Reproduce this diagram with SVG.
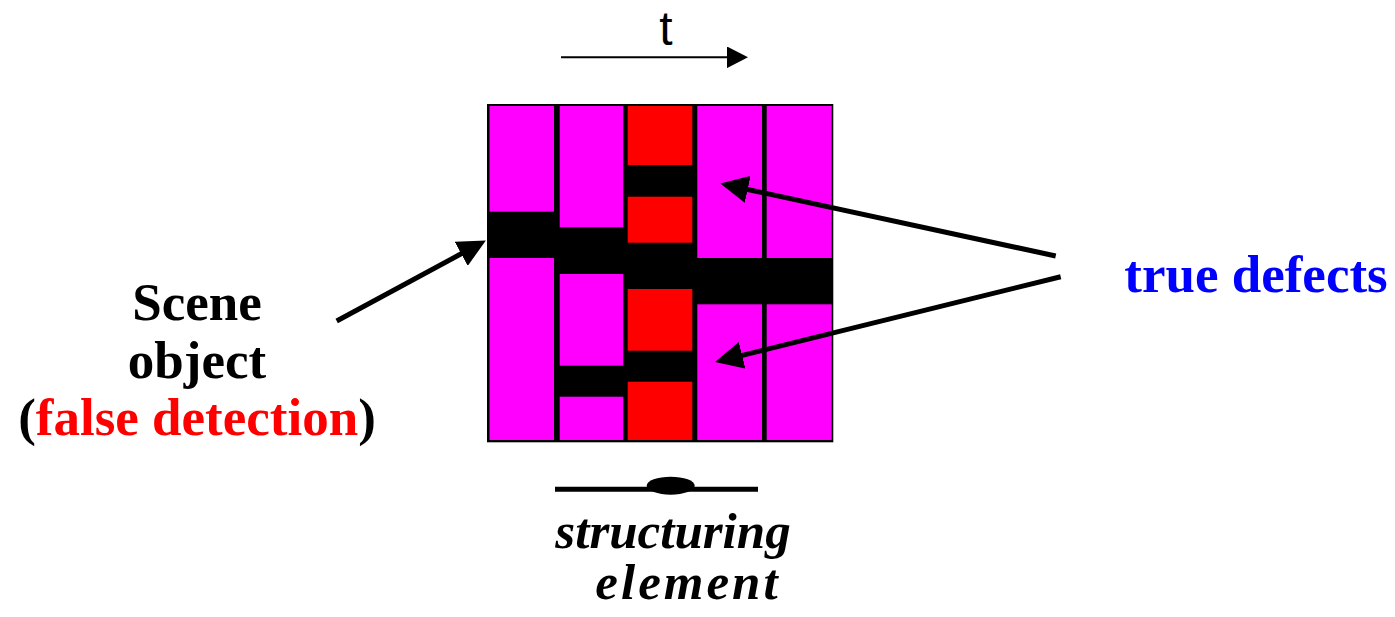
<svg xmlns="http://www.w3.org/2000/svg" width="1395" height="617" viewBox="0 0 1395 617">
<style>
.m{fill:#FF00FF}
.r{fill:#FF0000}
.lbl{font-family:"Liberation Serif","Times New Roman",serif;font-weight:bold;font-size:53px;text-anchor:middle}
.it{font-style:italic;font-size:51px}
.conn{stroke:#000;stroke-width:5;fill:none}
</style>
<defs>
<marker id="ah" markerUnits="userSpaceOnUse" viewBox="0 0 28 27.5" refX="1" refY="13.75" markerWidth="28" markerHeight="27.5" orient="auto">
<path d="M0,0 L28,13.75 L0,27.5 z" fill="#000"/>
</marker>
<marker id="ahs" markerUnits="userSpaceOnUse" viewBox="0 0 21 21.6" refX="1" refY="10.8" markerWidth="21" markerHeight="21.6" orient="auto">
<path d="M0,0 L21,10.8 L0,21.6 z" fill="#000"/>
</marker>
</defs>
<rect width="1395" height="617" fill="#fff"/>
<g id="time-axis">
<line x1="561" y1="57.3" x2="728" y2="57.3" stroke="#000" stroke-width="2" marker-end="url(#ahs)"/>
<text x="666" y="45" font-family="'Liberation Sans',Arial,sans-serif" font-size="48" text-anchor="middle">t</text>
</g>
<g id="grid">
<rect x="487" y="104" width="346.3" height="338.3" fill="#000"/>
<rect class="m" x="489.5" y="106" width="64.5" height="105.7"/>
<rect class="m" x="489.5" y="258" width="64.5" height="182"/>
<rect class="m" x="559.7" y="106" width="63.6" height="121.3"/>
<rect class="m" x="559.7" y="274" width="63.6" height="91.7"/>
<rect class="m" x="559.7" y="396.7" width="63.6" height="43.3"/>
<rect class="r" x="627.7" y="106" width="64.6" height="59"/>
<rect class="r" x="627.7" y="196.7" width="64.6" height="46"/>
<rect class="r" x="627.7" y="289" width="64.6" height="61.7"/>
<rect class="r" x="627.7" y="381.7" width="64.6" height="58.3"/>
<rect class="m" x="697.3" y="106" width="64.7" height="152"/>
<rect class="m" x="697.3" y="304.3" width="64.7" height="135.7"/>
<rect class="m" x="766.7" y="106" width="65" height="152"/>
<rect class="m" x="766.7" y="304.3" width="65" height="135.7"/>
</g>
<g id="structuring-element">
<line x1="555" y1="489.3" x2="758" y2="489.3" stroke="#000" stroke-width="5"/>
<ellipse cx="670.7" cy="485.7" rx="24" ry="9" fill="#000"/>
<text class="lbl it" x="673" y="548">structuring</text>
<text class="lbl it" x="688" y="599" letter-spacing="3">element</text>
</g>
<g id="scene-object">
<text class="lbl" x="197" y="320">Scene</text>
<text class="lbl" x="197" y="377.5">object</text>
<text class="lbl" x="197" y="435">(<tspan fill="#FF0000">false detection</tspan>)</text>
</g>
<g id="true-defects">
<text class="lbl" x="1256" y="291.5" fill="#0000FF">true defects</text>
</g>
<g id="connectors">
<line class="conn" x1="336.7" y1="321" x2="462.1" y2="253.3" marker-end="url(#ah)"/>
<line class="conn" x1="1055.7" y1="256" x2="746.7" y2="189.2" marker-end="url(#ah)"/>
<line class="conn" x1="1060.7" y1="276.7" x2="741.2" y2="355.6" marker-end="url(#ah)"/>
</g>
</svg>
